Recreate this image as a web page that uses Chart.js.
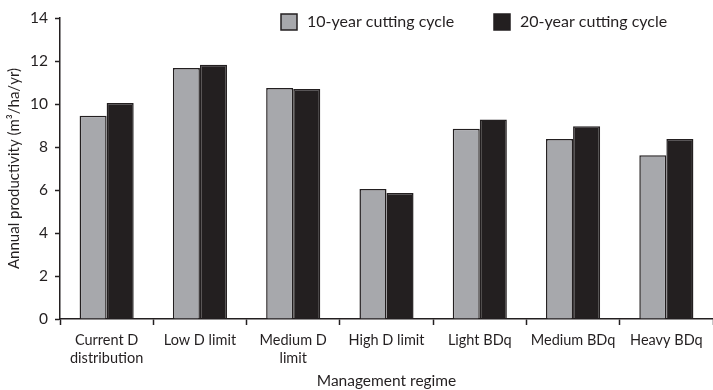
<!DOCTYPE html>
<html>
<head>
<meta charset="utf-8">
<script src="https://cdn.jsdelivr.net/npm/chart.js@4/dist/chart.umd.min.js"></script>
<style>
  html, body { margin: 0; padding: 0; background: #fff; }
  #wrap { width: 713px; height: 390px; }
</style>
</head>
<body>
<div id="wrap"><canvas id="c" width="713" height="390"></canvas></div>
<script>
// Management regimes on the x axis (multi-line labels as arrays)
const regimes = [
  ["Current D", "distribution"],
  "Low D limit",
  ["Medium D", "limit"],
  "High D limit",
  "Light BDq",
  "Medium BDq",
  "Heavy BDq"
];

// Annual productivity (m3/ha/yr) per cutting cycle
const cycle10 = [9.45, 11.67, 10.75, 6.05, 8.85, 8.37, 7.62];
const cycle20 = [10.05, 11.82, 10.70, 5.86, 9.28, 8.97, 8.37];

const seriesNames = ["10-year cutting cycle", "20-year cutting cycle"];
const yTicks = [0, 2, 4, 6, 8, 10, 12, 14];

const ink = "#231f20";
const FONT = "Lato, 'DejaVu Sans', sans-serif";

// Legend drawn across the top of the plot area
const topLegend = {
  id: "topLegend",
  afterDraw(chart) {
    const ctx = chart.ctx;
    const area = chart.chartArea;
    const slots = [area.left + 221, area.left + 434];
    ctx.save();
    ctx.font = "16px " + FONT;
    ctx.textBaseline = "middle";
    chart.data.datasets.forEach((ds, i) => {
      const x = slots[i];
      const y = area.top - 4;
      ctx.fillStyle = ds.backgroundColor;
      ctx.fillRect(x, y, 16, 16);
      if (ds.borderWidth) {
        ctx.strokeStyle = ds.borderColor;
        ctx.lineWidth = 1.5;
        ctx.strokeRect(x, y, 16, 16);
      }
      ctx.fillStyle = ink;
      ctx.fillText(ds.label, x + 26, y + 8);
    });
    ctx.restore();
  }
};

new Chart(document.getElementById("c"), {
  type: "bar",
  data: {
    labels: regimes,
    datasets: [
      { label: seriesNames[0], data: cycle10, backgroundColor: "#a7a8ac", borderColor: ink, borderWidth: 1.5 },
      { label: seriesNames[1], data: cycle20, backgroundColor: ink, borderColor: ink, borderWidth: 1.5 }
    ]
  },
  options: {
    responsive: false,
    animation: false,
    layout: { padding: { top: 18, right: 0, bottom: 0, left: 0 } },
    categoryPercentage: 0.58,
    barPercentage: 1.0,
    plugins: {
      legend: { display: false },
      tooltip: { enabled: false }
    },
    scales: {
      x: {
        border: { color: ink, width: 1.5 },
        grid: { drawOnChartArea: false, drawTicks: true, tickLength: 6, tickWidth: 1.5, tickColor: ink, offset: true },
        ticks: { color: ink, font: { family: FONT, size: 14.5, lineHeight: 1.2 }, maxRotation: 0, autoSkip: false, padding: 7 },
        title: { display: true, text: "Management regime", color: ink, font: { family: FONT, size: 15.5 }, padding: { top: 0, bottom: 0 } },
        afterFit(scale) { scale.height = 71; }
      },
      y: {
        min: 0,
        max: 14,
        border: { color: ink, width: 1.5 },
        grid: { drawOnChartArea: false, drawTicks: true, tickLength: 5, tickWidth: 1.5, tickColor: ink },
        afterBuildTicks(scale) { scale.ticks = yTicks.map(v => ({ value: v })); },
        ticks: { color: ink, font: { family: FONT, size: 15.5 }, padding: 7 },
        title: { display: true, text: "Annual productivity (m\u00B3/ha/yr)", color: ink, font: { family: FONT, size: 15 }, padding: { top: 5, bottom: 0 } },
        afterFit(scale) { scale.width = 60; }
      }
    }
  },
  plugins: [topLegend]
});
</script>
</body>
</html>
